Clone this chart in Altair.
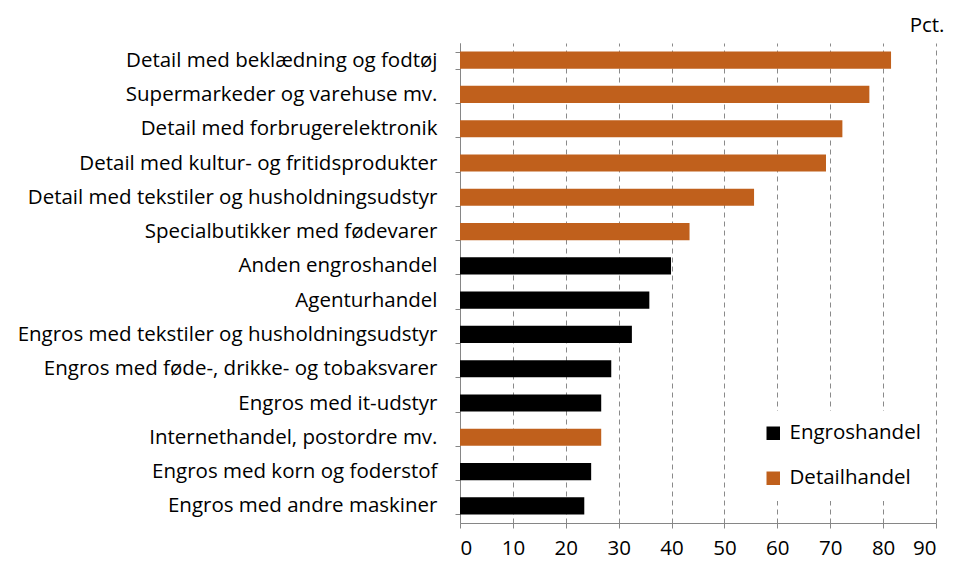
import altair as alt
import pandas as pd

categories = [
    "Detail med beklædning og fodtøj",
    "Supermarkeder og varehuse mv.",
    "Detail med forbrugerelektronik",
    "Detail med kultur- og fritidsprodukter",
    "Detail med tekstiler og husholdningsudstyr",
    "Specialbutikker med fødevarer",
    "Anden engroshandel",
    "Agenturhandel",
    "Engros med tekstiler og husholdningsudstyr",
    "Engros med føde-, drikke- og tobaksvarer",
    "Engros med it-udstyr",
    "Internethandel, postordre mv.",
    "Engros med korn og foderstof",
    "Engros med andre maskiner",
]
values = [81.5, 77.4, 72.3, 69.2, 55.6, 43.4, 39.9, 35.8, 32.5, 28.6, 26.7, 26.7, 24.8, 23.5]
groups = [
    "Detailhandel", "Detailhandel", "Detailhandel", "Detailhandel", "Detailhandel", "Detailhandel",
    "Engroshandel", "Engroshandel", "Engroshandel", "Engroshandel", "Engroshandel",
    "Detailhandel", "Engroshandel", "Engroshandel",
]
legend_order = ["Engroshandel", "Detailhandel"]
legend_colors = ["#000000", "#C0601C"]
x_ticks = [0, 10, 20, 30, 40, 50, 60, 70, 80, 90]

df = pd.DataFrame({"kategori": categories, "pct": values, "gruppe": groups})

FONT = "Open Sans"
FS = 20.5

chart = alt.Chart(df).mark_bar().encode(
    x=alt.X(
        "pct:Q",
        scale=alt.Scale(domain=[0, 90], nice=False),
        axis=alt.Axis(
            values=x_ticks,
            title="Pct.",
            titleX=484,
            titleY=-498,
            titleAlign="right",
            titleBaseline="middle",
            titleFontWeight="normal",
            titleFontSize=FS,
            titleFont=FONT,
            titleColor="#000000",
            labelFontSize=FS,
            labelFont=FONT,
            labelColor="#000000",
            labelPadding=10,
            tickSize=5,
            tickColor="#868686",
            domainColor="#868686",
            grid=True,
            gridDash=[5, 4],
            gridColor="#8a8a8a",
            gridWidth=1,
        ),
    ),
    y=alt.Y(
        "kategori:N",
        sort=categories,
        scale=alt.Scale(paddingInner=0.5, paddingOuter=0.25),
        axis=alt.Axis(
            title=None,
            labelFontSize=FS,
            labelFont=FONT,
            labelColor="#000000",
            labelPadding=18,
            labelLimit=0,
            tickSize=5,
            tickBand="extent",
            tickColor="#868686",
            domainColor="#868686",
            grid=False,
        ),
    ),
    color=alt.Color(
        "gruppe:N",
        scale=alt.Scale(domain=legend_order, range=legend_colors),
        legend=alt.Legend(
            title=None,
            orient="none",
            legendX=291,
            legendY=368,
            padding=12,
            fillColor="#ffffff",
            symbolType="square",
            symbolSize=182,
            symbolStrokeWidth=0,
            labelFontSize=FS,
            labelFont=FONT,
            labelColor="#000000",
            labelOffset=6,
            rowPadding=24,
        ),
    ),
).properties(
    width=476,
    height=480,
    autosize=alt.AutoSizeParams(type="none"),
    padding={"left": 452, "top": 35, "right": 11, "bottom": 39},
).configure_view(
    stroke=None
).configure_axis(
    gridOpacity=1
)

chart.save("out.html", embed_options={"renderer": "svg", "actions": False})
